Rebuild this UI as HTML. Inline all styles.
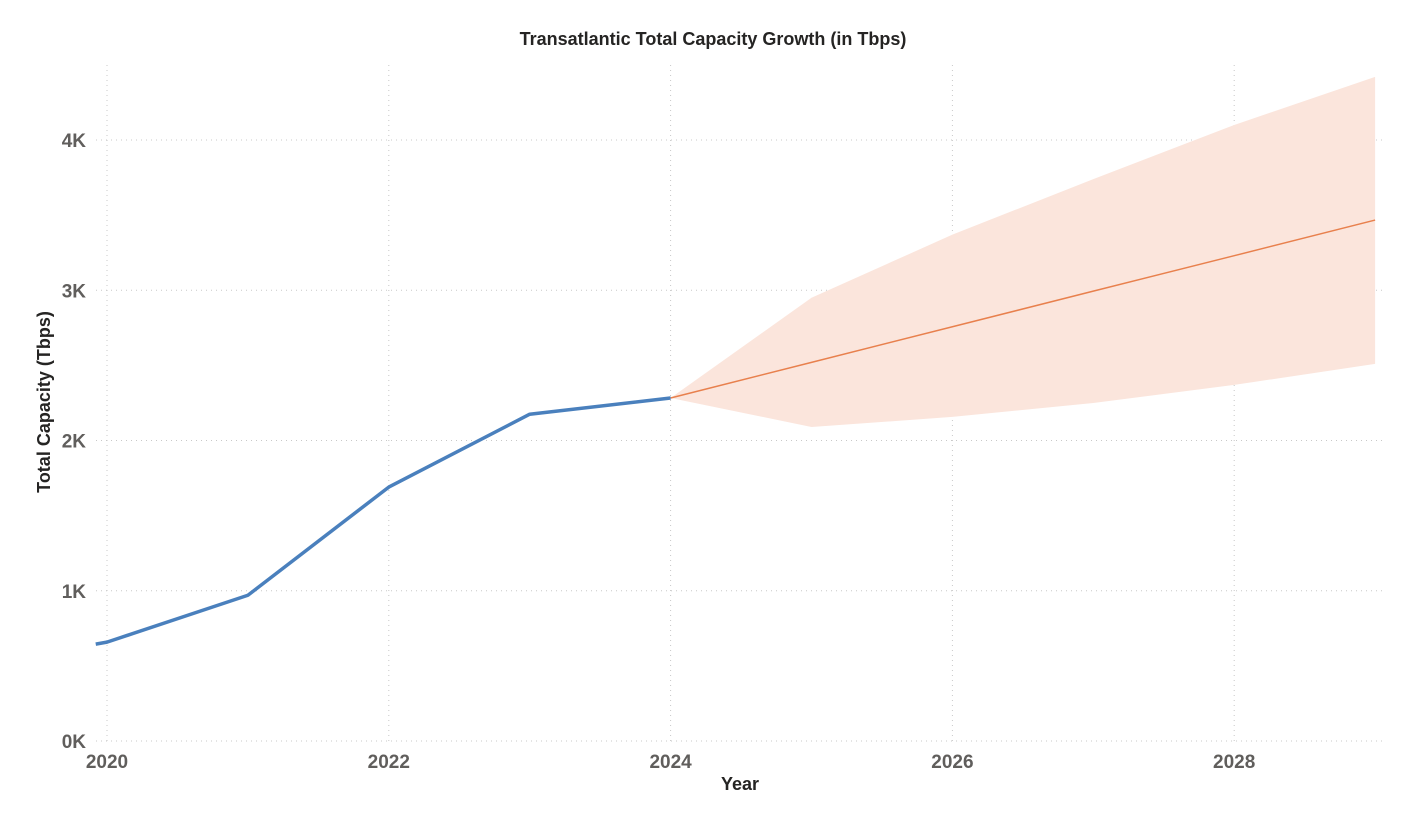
<!DOCTYPE html>
<html><head><meta charset="utf-8">
<style>
html,body{margin:0;padding:0;background:#fff;}
svg{display:block;font-family:"Liberation Sans",sans-serif;}
</style></head>
<body>
<svg id="chart" width="1427" height="825" viewBox="0 0 1427 825">
<text x="713" y="45" text-anchor="middle" font-size="18" font-weight="bold" fill="#252423">Transatlantic Total Capacity Growth (in Tbps)</text>
<text x="740" y="790" text-anchor="middle" font-size="18" font-weight="bold" fill="#252423">Year</text>
<text transform="translate(50,402) rotate(-90)" text-anchor="middle" font-size="18" font-weight="bold" fill="#252423">Total Capacity (Tbps)</text>
<g id="grid"></g><g id="marks"></g><g id="ticks"></g>
</svg>
<script>
const histYears=[2019.92,2020,2021,2022,2023,2024];
const histValues=[645,658,970,1690,2175,2283];
const fcYears=[2024,2025,2026,2027,2028,2029];
const fcValues=[2283,2520,2757,2994,3230,3467];
const fcUpper=[2283,2950,3370,3740,4100,4420];
const fcLower=[2283,2090,2157,2250,2370,2510];
const xTicks=[2020,2022,2024,2026,2028];
const yTicks=[0,1000,2000,3000,4000];
const yTickLabels=["0K","1K","2K","3K","4K"];

const NS="http://www.w3.org/2000/svg";
const x=v=>107+(v-2020)*140.9;
const y=v=>741-v*0.15025;
function mk(tag,attrs,parent){const e=document.createElementNS(NS,tag);for(const k in attrs)e.setAttribute(k,attrs[k]);parent.appendChild(e);return e;}
const grid=document.getElementById('grid'),marks=document.getElementById('marks'),ticks=document.getElementById('ticks');
yTicks.forEach((t,i)=>{
 const l=mk('line',{x1:96,x2:1382,y1:y(t),y2:y(t),stroke:'#c8c8c8','stroke-dasharray':'1,4'},grid);
 
 
 const tx=mk('text',{x:86,y:y(t)+7,'text-anchor':'end','font-size':'19','font-weight':'bold',fill:'#605e5c'},ticks);
 tx.textContent=yTickLabels[i];
 
 
});
xTicks.forEach(t=>{
 const l=mk('line',{x1:x(t),x2:x(t),y1:65,y2:741,stroke:'#c8c8c8','stroke-dasharray':'1,4'},grid);
 
 
 const tx=mk('text',{x:x(t),y:768,'text-anchor':'middle','font-size':'19','font-weight':'bold',fill:'#605e5c'},ticks);
 tx.textContent=t;
 
 
});
let d=fcYears.map((v,i)=>(i?'L':'M')+x(v)+','+y(fcUpper[i])).join('');
for(let i=fcYears.length-1;i>=0;i--)d+='L'+x(fcYears[i])+','+y(fcLower[i]);
const band=mk('path',{d:d+'Z',fill:'#fbe5dc'},marks);


const fl=mk('polyline',{points:fcYears.map((v,i)=>x(v)+','+y(fcValues[i])).join(' '),fill:'none',stroke:'#e8804d','stroke-width':'1.5'},marks);


const hl=mk('polyline',{points:histYears.map((v,i)=>x(v)+','+y(histValues[i])).join(' '),fill:'none',stroke:'#4a80bd','stroke-width':'3.5','stroke-linejoin':'round'},marks);


</script>
</body></html>
